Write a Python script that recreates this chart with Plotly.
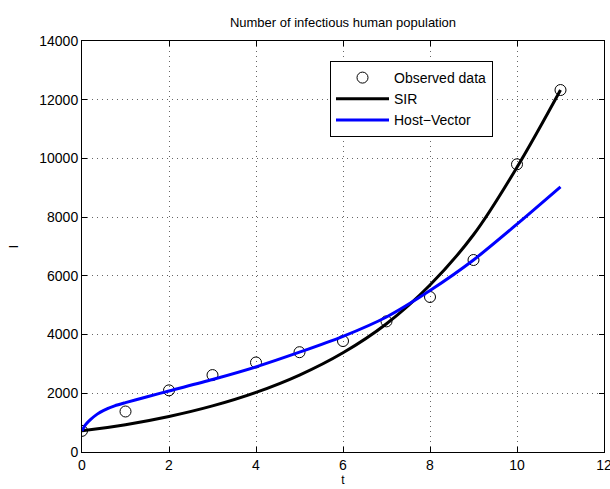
import plotly.graph_objects as go

# Observed infectious humans
t_obs = [0, 1, 2, 3, 4, 5, 6, 7, 8, 9, 10, 11]
i_obs = [720, 1380, 2100, 2620, 3050, 3400, 3780, 4450, 5280, 6540, 9800, 12330]

# SIR model fit
t_sir = [0, 1, 2, 3, 4, 5, 6, 7, 8, 9, 10, 11]
i_sir = [720, 930, 1210, 1570, 2030, 2620, 3380, 4370, 5690, 7400, 9700, 12330]

# Host-Vector model fit
t_hv = [0, 0.05, 0.1, 0.2, 0.35, 0.5, 0.75, 1, 1.5, 2, 3, 4, 5, 6, 7, 8, 9, 10, 11]
i_hv = [720, 860, 960, 1110, 1290, 1420, 1570, 1680, 1880, 2080, 2470, 2900, 3400,
        3940, 4600, 5500, 6540, 7760, 9030]

x_ticks = [0, 2, 4, 6, 8, 10, 12]
y_ticks = [0, 2000, 4000, 6000, 8000, 10000, 12000, 14000]

fig = go.Figure()
fig.add_trace(go.Scatter(
    x=t_obs, y=i_obs, mode="markers", name="Observed data",
    marker=dict(symbol="circle-open", size=11, color="black", line=dict(width=1)),
))
fig.add_trace(go.Scatter(
    x=t_sir, y=i_sir, mode="lines", name="SIR",
    line=dict(color="black", width=3, shape="spline", smoothing=1.0),
))
fig.add_trace(go.Scatter(
    x=t_hv, y=i_hv, mode="lines", name="Host\u2212Vector",
    line=dict(color="blue", width=3, shape="spline", smoothing=0.8),
))

axis_common = dict(
    showline=True, linecolor="black", linewidth=1, mirror="ticks",
    ticks="inside", ticklen=5, tickcolor="black", automargin=False,
    showgrid=True, gridcolor="rgba(0,0,0,0.6)", griddash="1px,4px", gridwidth=1,
    zeroline=False, tickfont=dict(family="Liberation Sans, Arial", size=14, color="black"),
)

fig.update_layout(
    width=610, height=489,
    margin=dict(l=82, r=6, t=41, b=37),
    paper_bgcolor="white", plot_bgcolor="white",
    font=dict(family="Liberation Sans, Arial", color="black"),
    title=dict(text="Number of infectious human population", xref="paper", x=0.5,
               xanchor="center", y=1 - 22 / 489, yanchor="middle", font=dict(size=13)),
    xaxis=dict(range=[0, 12], tickvals=x_ticks, ticktext=[str(v) for v in x_ticks],
               ticklabeloverflow="allow",
               title=dict(text="t", font=dict(size=12), standoff=2), **axis_common),
    yaxis=dict(range=[0, 14000], tickvals=y_ticks, ticktext=[str(v) for v in y_ticks],
               title=dict(text="I", font=dict(size=12), standoff=18), **axis_common),
    legend=dict(x=(330 - 82) / 522, y=(452 - 61) / 411, xanchor="left", yanchor="top",
                bordercolor="black", borderwidth=1, bgcolor="white",
                font=dict(size=14), tracegroupgap=0, itemwidth=53),
    showlegend=True,
)

fig.write_html("out.html")
